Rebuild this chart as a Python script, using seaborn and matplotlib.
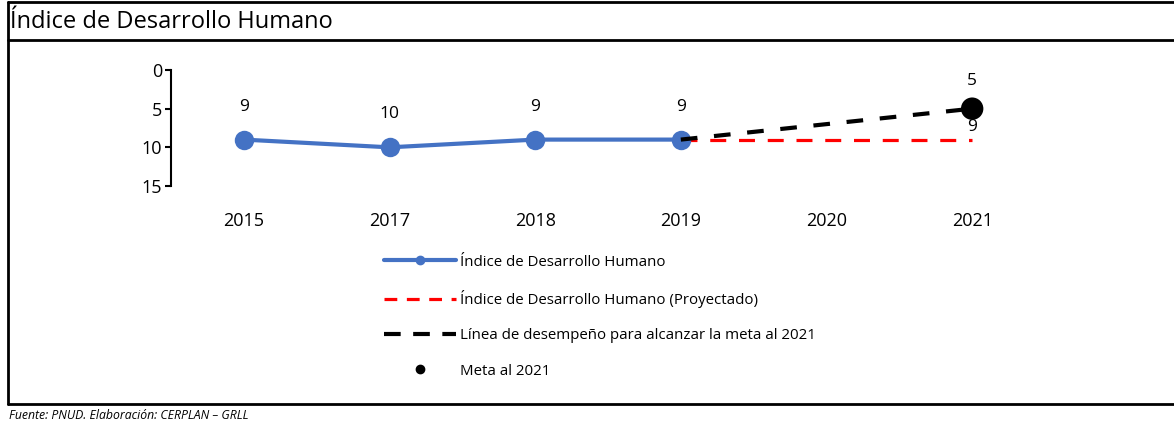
import numpy as np
import pandas as pd
import matplotlib
matplotlib.use('Agg')
import matplotlib.pyplot as plt
from matplotlib.lines import Line2D
import seaborn as sns

years = ['2015', '2017', '2018', '2019', '2020', '2021']
idh = [9, 10, 9, 9]               # 2015-2019
proy_years = ['2019', '2020', '2021']
proy = [9, 9, 9]
meta_line_years = ['2019', '2021']
meta_line = [9, 5]
meta_year = ['2021']
meta = [5]

sns.set_theme(style='white')
plt.rcParams['font.family'] = ['Open Sans', 'DejaVu Sans']
plt.rcParams['text.color'] = 'black'
plt.rcParams['xtick.color'] = 'black'
plt.rcParams['ytick.color'] = 'black'

fig = plt.figure(figsize=(11.74, 4.23), dpi=100)
ax = fig.add_axes([171 / 1174, 1 - 186 / 423, (1045 - 171) / 1174, (186 - 70) / 423])

pos = {y: i for i, y in enumerate(years)}
df_idh = pd.DataFrame({'x': [pos[y] for y in years[:4]], 'v': idh})
df_proy = pd.DataFrame({'x': [pos[y] for y in proy_years], 'v': proy})
df_ml = pd.DataFrame({'x': [pos[y] for y in meta_line_years], 'v': meta_line})
df_meta = pd.DataFrame({'x': [pos[y] for y in meta_year], 'v': meta})

blue = '#4472C4'
sns.lineplot(data=df_proy, x='x', y='v', ax=ax, color='#FF0000', lw=2.3,
             linestyle=(0, (5, 4)), zorder=2)
sns.lineplot(data=df_idh, x='x', y='v', ax=ax, color=blue, lw=3, marker='o',
             markersize=14, markeredgewidth=0, zorder=3)
sns.lineplot(data=df_ml, x='x', y='v', ax=ax, color='black', lw=3,
             linestyle=(0, (4, 4)), zorder=4)
sns.scatterplot(data=df_meta, x='x', y='v', ax=ax, color='black', s=260,
                edgecolor='none', zorder=5)

for x, v in zip(df_idh['x'], df_idh['v']):
    ax.annotate(str(v), (x, v), xytext=(0, 18), textcoords='offset points',
                ha='center', va='bottom', fontsize=12.5)
ax.annotate(str(meta[0]), (df_meta['x'][0], meta[0]), xytext=(0, 14),
            textcoords='offset points', ha='center', va='bottom', fontsize=12.5)
ax.annotate(str(proy[-1]), (df_proy['x'].iloc[-1], proy[-1]), xytext=(0, 3),
            textcoords='offset points', ha='center', va='bottom', fontsize=12.5)

ax.set_xlim(-0.5, 5.5)
ax.set_ylim(15, 0)
ax.set_yticks([0, 5, 10, 15])
ax.set_xticks(range(len(years)))
ax.set_xticklabels(years)
ax.set_xlabel('')
ax.set_ylabel('')
for s in ['top', 'right', 'bottom']:
    ax.spines[s].set_visible(False)
ax.spines['left'].set_color('black')
ax.spines['left'].set_linewidth(1.5)
ax.tick_params(axis='y', left=True, length=4.5, width=1.5, color='black',
               pad=2, labelsize=13)
ax.tick_params(axis='x', bottom=False, pad=13, labelsize=13)
ax.patch.set_alpha(0)

handles = [
    Line2D([], [], color=blue, lw=3, marker='o', markersize=6),
    Line2D([], [], color='#FF0000', lw=2.3, linestyle=(0, (4, 3))),
    Line2D([], [], color='black', lw=3, linestyle=(0, (4, 3))),
    Line2D([], [], color='black', lw=0, marker='o', markersize=6),
]
labels = ['Índice de Desarrollo Humano',
          'Índice de Desarrollo Humano (Proyectado)',
          'Línea de desempeño para alcanzar la meta al 2021',
          'Meta al 2021']
fig.legend(handles, labels, loc='upper left', bbox_to_anchor=(370 / 1174, 1 - 241 / 423),
           frameon=False, fontsize=10.8, handlelength=4.8, handletextpad=0.3,
           labelspacing=1.36, numpoints=1)

# frame lines
lw = 2
fig.add_artist(Line2D([8 / 1174, 8 / 1174], [1 - 2 / 423, 1 - 404 / 423], color='black', lw=lw))
fig.add_artist(Line2D([8 / 1174, 1], [1 - 2 / 423, 1 - 2 / 423], color='black', lw=lw))
fig.add_artist(Line2D([8 / 1174, 1], [1 - 40 / 423, 1 - 40 / 423], color='black', lw=lw))
fig.add_artist(Line2D([8 / 1174, 1], [1 - 404 / 423, 1 - 404 / 423], color='black', lw=lw))

fig.text(10 / 1174, 1 - 22 / 423, 'Índice de Desarrollo Humano', fontsize=17,
         va='center', ha='left')
fig.text(9 / 1174, 1 - 415 / 423, 'Fuente: PNUD. Elaboración: CERPLAN – GRLL',
         fontsize=8.8, style='italic', va='center', ha='left')

fig.savefig('out.png', dpi=100)
